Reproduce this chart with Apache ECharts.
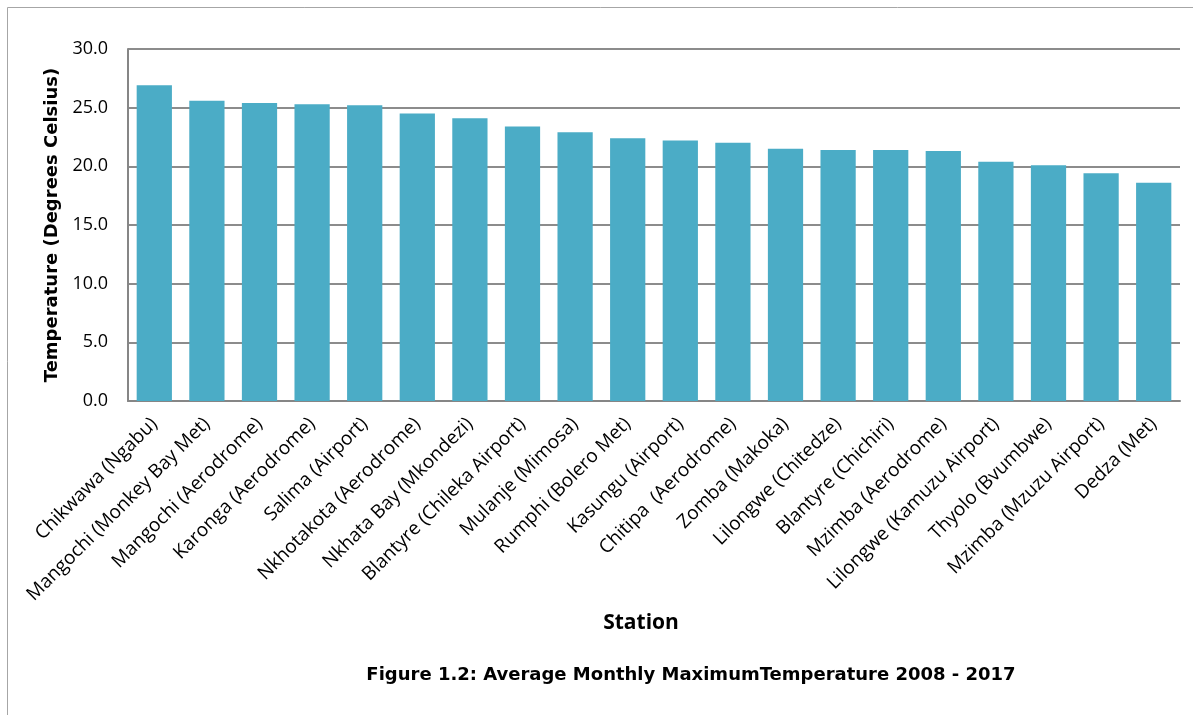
<!DOCTYPE html>
<html>
<head>
<meta charset="utf-8">
<script src="https://cdn.jsdelivr.net/npm/echarts@6/dist/echarts.min.js"></script>
<style>html,body{margin:0;padding:0;background:#fff;}#c{width:1193px;height:715px;}</style>
</head>
<body>
<div id="c"></div>
<script>
const stations = [
  "Chikwawa (Ngabu)", "Mangochi (Monkey Bay Met)", "Mangochi (Aerodrome)", "Karonga (Aerodrome)",
  "Salima (Airport)", "Nkhotakota (Aerodrome)", "Nkhata Bay (Mkondezi)", "Blantyre (Chileka Airport)",
  "Mulanje (Mimosa)", "Rumphi (Bolero Met)", "Kasungu (Airport)", "Chitipa  (Aerodrome)",
  "Zomba (Makoka)", "Lilongwe (Chitedze)", "Blantyre (Chichiri)", "Mzimba (Aerodrome)",
  "Lilongwe (Kamuzu Airport)", "Thyolo (Bvumbwe)", "Mzimba (Mzuzu Airport)", "Dedza (Met)"
];
const maxTemp = [26.9, 25.6, 25.4, 25.3, 25.2, 24.5, 24.1, 23.4, 22.9, 22.4,
                 22.2, 22.0, 21.5, 21.4, 21.4, 21.3, 20.4, 20.1, 19.4, 18.6];
const yTicks = { min: 0, max: 30, interval: 5 };
const yTitle = "Temperature (Degrees Celsius)";
const xTitle = "Station";
const caption = "Figure 1.2: Average Monthly MaximumTemperature 2008 - 2017";

const chart = echarts.init(document.getElementById('c'), null, {renderer: 'canvas'});
chart.setOption({
  animation: false,
  backgroundColor: '#ffffff',
  grid: { left: 128, right: 13, top: 49, bottom: 314, containLabel: false },
  xAxis: {
    type: 'category',
    data: stations,
    axisLine: { show: true, lineStyle: { color: '#868686', width: 2 } },
    axisTick: { show: false },
    axisLabel: {
      rotate: 45, interval: 0, margin: 20,
      fontFamily: '"Open Sans", sans-serif', fontSize: 19, color: '#000'
    }
  },
  yAxis: {
    type: 'value',
    min: yTicks.min, max: yTicks.max, interval: yTicks.interval,
    axisLine: { show: true, lineStyle: { color: '#868686', width: 2 } },
    axisTick: { show: false },
    splitLine: { show: true, lineStyle: { color: '#8c8c8c', width: 2 } },
    axisLabel: {
      formatter: v => v.toFixed(1), margin: 20,
      fontFamily: '"Open Sans", sans-serif', fontSize: 18, color: '#000'
    },
    name: yTitle, nameLocation: 'middle', nameGap: 66, nameRotate: 90,
    nameTextStyle: { fontFamily: '"DejaVu Sans", sans-serif', fontWeight: 'bold', fontSize: 18, color: '#000' }
  },
  series: [{
    type: 'bar',
    data: maxTemp,
    barCategoryGap: '33%',
    itemStyle: { color: '#4BACC6' }
  }],
  graphic: [
    { type: 'rect', shape: { x: 7.5, y: 7.5, width: 1300, height: 800 }, style: { fill: 'none', stroke: '#a6a6a6', lineWidth: 1 }, silent: true, z: -1 },
    { type: 'text', x: 641, y: 623,
      style: { text: xTitle, font: 'bold 21px "Open Sans", sans-serif', fill: '#000', textAlign: 'center', textVerticalAlign: 'middle' } },
    { type: 'text', x: 691, y: 675,
      style: { text: caption, font: 'bold 18px "DejaVu Sans", sans-serif', fill: '#000', textAlign: 'center', textVerticalAlign: 'middle' } }
  ]
});
</script>
</body>
</html>
